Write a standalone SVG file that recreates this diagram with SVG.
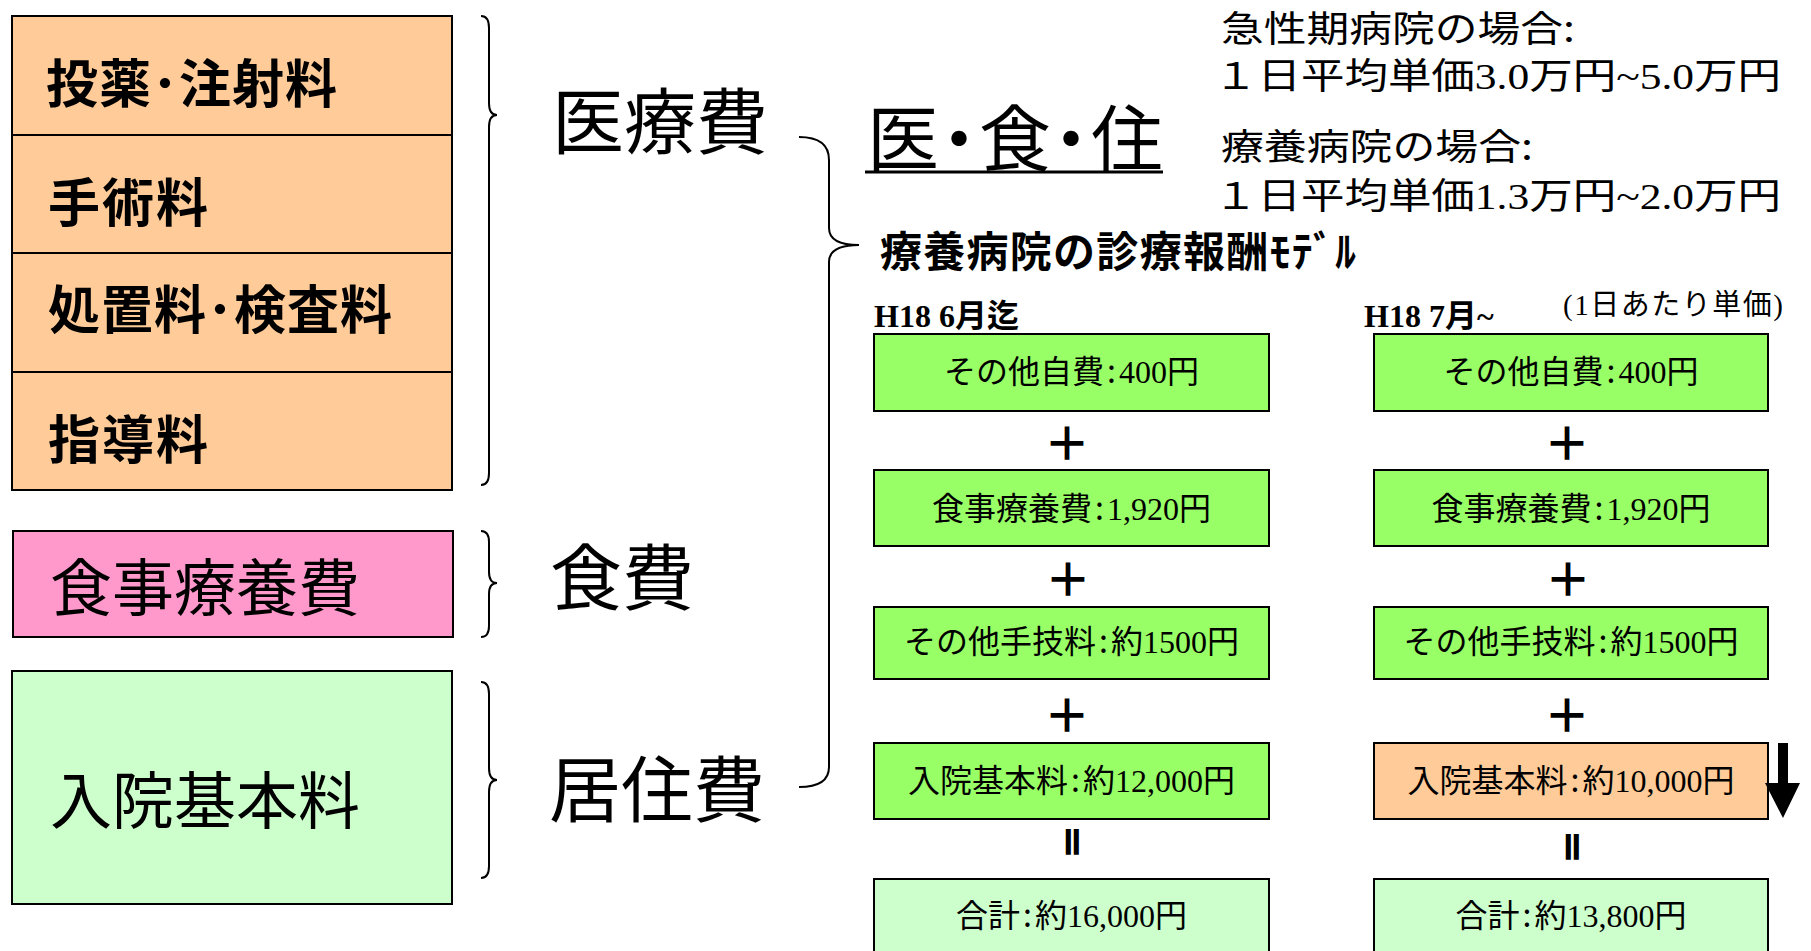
<svg xmlns="http://www.w3.org/2000/svg" width="1811" height="951" viewBox="0 0 1811 951">
<style>
text { font-family: "Noto Sans CJK JP", "Noto Sans", sans-serif; fill: #000; }
.s { font-family: "Liberation Serif", "Noto Sans CJK JP", serif; }
.box { stroke: #000; stroke-width: 2; }
.or { fill: #FFCC99; }
.pk { fill: #FF99CC; }
.lg { fill: #CCFFCC; }
.gr { fill: #99FF66; }
.brace { fill: none; stroke: #000; stroke-width: 2; }
.lbl { font-size: 52px; font-weight: bold; }
.lbl2 { font-size: 62px; }
.big { font-size: 72px; }
.cell { font-size: 32px; text-anchor: middle; }
.op { font-size: 46px; font-weight: bold; text-anchor: middle; }
.eq { font-size: 34px; font-weight: bold; text-anchor: middle; stroke: #000; stroke-width: 1.6; }
.info { font-size: 36px; }
.col { font-size: 32px; font-weight: bold; }
</style>
<rect x="0" y="0" width="1811" height="951" fill="#fff"/>

<g id="left-medical">
  <g id="node-touyaku">
    <rect class="box or" x="12" y="16" width="440" height="119"/>
    <text class="lbl" x="46" y="103" letter-spacing="1">投薬･注射料</text>
  </g>
  <g id="node-shujutsu">
    <rect class="box or" x="12" y="135" width="440" height="118"/>
    <text class="lbl" x="48" y="222" letter-spacing="2">手術料</text>
  </g>
  <g id="node-shochi">
    <rect class="box or" x="12" y="253" width="440" height="119"/>
    <text class="lbl" x="48" y="329" letter-spacing="1">処置料･検査料</text>
  </g>
  <g id="node-shido">
    <rect class="box or" x="12" y="372" width="440" height="118"/>
    <text class="lbl" x="48" y="459" letter-spacing="2">指導料</text>
  </g>
</g>

<g id="node-shokuji">
  <rect class="box pk" x="13" y="531" width="440" height="106"/>
  <text class="lbl2" x="50" y="611">食事療養費</text>
</g>

<g id="node-nyuin">
  <rect class="box lg" x="12" y="671" width="440" height="233"/>
  <text class="lbl2" x="50" y="824">入院基本料</text>
</g>

<g id="node-iryohi"><text class="big" x="552" y="148">医療費</text></g>
<g id="node-shokuhi"><text class="big" x="550" y="604">食費</text></g>
<g id="node-kyojuhi"><text class="big" x="549" y="816">居住費</text></g>

<g id="node-ishokuju">
  <text class="big" x="867" y="165" letter-spacing="-16">医・食・住</text>
  <line x1="865" y1="172" x2="1163" y2="172" stroke="#000" stroke-width="3"/>
</g>

<g id="node-info">
  <text class="info" x="1221" y="42" textLength="354" lengthAdjust="spacingAndGlyphs">急性期病院の場合:</text>
  <text class="info" x="1214" y="89" textLength="567" lengthAdjust="spacingAndGlyphs">１日平均単価<tspan class="s">3.0</tspan>万円<tspan class="s">~5.0</tspan>万円</text>
  <text class="info" x="1221" y="160" textLength="312" lengthAdjust="spacingAndGlyphs">療養病院の場合:</text>
  <text class="info" x="1214" y="209" textLength="567" lengthAdjust="spacingAndGlyphs">１日平均単価<tspan class="s">1.3</tspan>万円<tspan class="s">~2.0</tspan>万円</text>
</g>

<g id="node-header">
  <text x="880" y="267" font-size="42" font-weight="bold" textLength="476">療養病院の診療報酬ﾓﾃﾞﾙ</text>
</g>

<g id="col-before">
  <text class="col" x="874" y="327"><tspan class="s">H18 6</tspan>月迄</text>
  <g id="b1">
    <rect class="box gr" x="874" y="334" width="395" height="77"/>
    <text class="cell" x="1071.5" y="383">その他自費<tspan dx="3">:</tspan><tspan class="s" dx="3">400</tspan>円</text>
  </g>
  <text class="op" x="1067" y="460">＋</text>
  <g id="b2">
    <rect class="box gr" x="874" y="470" width="395" height="76"/>
    <text class="cell" x="1071.5" y="520">食事療養費<tspan dx="3">:</tspan><tspan class="s" dx="3">1,920</tspan>円</text>
  </g>
  <text class="op" x="1068" y="596">＋</text>
  <g id="b3">
    <rect class="box gr" x="874" y="607" width="395" height="72"/>
    <text class="cell" x="1071.5" y="653">その他手技料<tspan dx="3">:</tspan><tspan dx="3">約</tspan><tspan class="s">1500</tspan>円</text>
  </g>
  <text class="op" x="1067" y="732">＋</text>
  <g id="b4">
    <rect class="box gr" x="874" y="743" width="395" height="76"/>
    <text class="cell" x="1071.5" y="792">入院基本料<tspan dx="3">:</tspan><tspan dx="3">約</tspan><tspan class="s">12,000</tspan>円</text>
  </g>
  <text class="eq" transform="translate(1071.5,842) rotate(90)" x="0" y="13">＝</text>
  <g id="b5">
    <rect class="box lg" x="874" y="879" width="395" height="100"/>
    <text class="cell" x="1071.5" y="927">合計<tspan dx="3">:</tspan><tspan dx="3">約</tspan><tspan class="s">16,000</tspan>円</text>
  </g>
</g>

<g id="col-after">
  <text class="col" x="1364" y="327"><tspan class="s">H18 7</tspan>月<tspan class="s">~</tspan></text>
  <text x="1563" y="315" font-size="29" textLength="220"><tspan class="s">(1</tspan>日あたり単価<tspan class="s">)</tspan></text>
  <g id="c1">
    <rect class="box gr" x="1374" y="334" width="394" height="77"/>
    <text class="cell" x="1571" y="383">その他自費<tspan dx="3">:</tspan><tspan class="s" dx="3">400</tspan>円</text>
  </g>
  <text class="op" x="1567" y="460">＋</text>
  <g id="c2">
    <rect class="box gr" x="1374" y="470" width="394" height="76"/>
    <text class="cell" x="1571" y="520">食事療養費<tspan dx="3">:</tspan><tspan class="s" dx="3">1,920</tspan>円</text>
  </g>
  <text class="op" x="1568" y="596">＋</text>
  <g id="c3">
    <rect class="box gr" x="1374" y="607" width="394" height="72"/>
    <text class="cell" x="1571" y="653">その他手技料<tspan dx="3">:</tspan><tspan dx="3">約</tspan><tspan class="s">1500</tspan>円</text>
  </g>
  <text class="op" x="1567" y="732">＋</text>
  <g id="c4">
    <rect class="box or" x="1374" y="743" width="394" height="76"/>
    <text class="cell" x="1571" y="792">入院基本料<tspan dx="3">:</tspan><tspan dx="3">約</tspan><tspan class="s">10,000</tspan>円</text>
  </g>
  <text class="eq" transform="translate(1571.5,847) rotate(90)" x="0" y="13">＝</text>
  <g id="c5">
    <rect class="box lg" x="1374" y="879" width="394" height="100"/>
    <text class="cell" x="1571" y="927">合計<tspan dx="3">:</tspan><tspan dx="3">約</tspan><tspan class="s">13,800</tspan>円</text>
  </g>
  <polygon id="down-arrow" points="1778,743 1788,743 1788,783 1800,783 1783,818 1765,783 1778,783" fill="#000"/>
</g>

<g id="connectors">
  <path class="brace" d="M481,16 Q489,16 489,28 L489,103 Q489,115 497,115 Q489,115 489,127 L489,473 Q489,485 481,485"/>
  <path class="brace" d="M481,531 Q489,531 489,542 L489,572 Q489,583 497,583 Q489,583 489,594 L489,626 Q489,637 481,637"/>
  <path class="brace" d="M481,682 Q489,682 489,694 L489,768 Q489,780 497,780 Q489,780 489,792 L489,866 Q489,878 481,878"/>
  <path class="brace" d="M799,137 Q829,137 829,160 L829,228 Q829,245 859,245 Q829,245 829,262 L829,767 Q829,787 799,787"/>
</g>
</svg>
